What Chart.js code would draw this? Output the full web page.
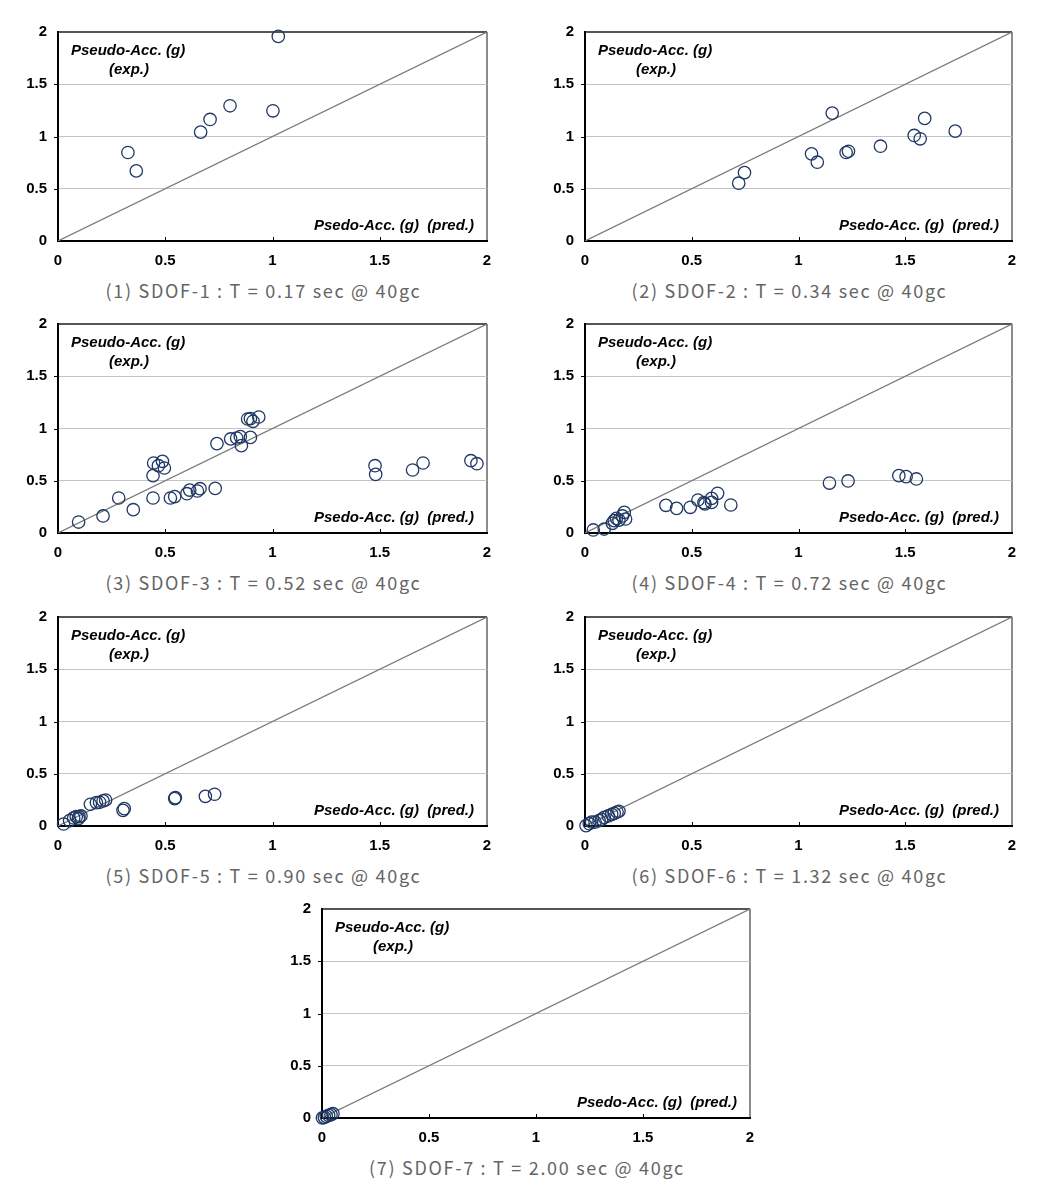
<!DOCTYPE html>
<html>
<head>
<meta charset="utf-8">
<script src="https://cdn.jsdelivr.net/npm/chart.js@4/dist/chart.umd.min.js"></script>
<style>
  html, body { margin: 0; padding: 0; background: #fff; }
  #wrap { position: relative; width: 1057px; height: 1192px; overflow: hidden; background: #fff; }
  canvas { position: absolute; }
  .lab { position: absolute; font-family: "Liberation Sans", Arial, sans-serif; font-weight: bold; font-style: italic; font-size: 15px; color: #000; white-space: pre; line-height: 16px; }
  .cap { position: absolute; font-family: "Noto Sans CJK KR", "Noto Sans", sans-serif; font-size: 18px; color: #656565; white-space: pre; letter-spacing: 1.7px; line-height: 22px; text-align: center; width: 440px; }
</style>
</head>
<body>
<div id="wrap"></div>
<script>
// ---------------- DATA ----------------
const xTickLabels = ['0', '0.5', '1', '1.5', '2'];
const yTickLabels = ['0', '0.5', '1', '1.5', '2'];
const diagX = [0, 2];
const diagY = [0, 2];

const captions = [
  '(1) SDOF-1 : T = 0.17 sec @ 40gc',
  '(2) SDOF-2 : T = 0.34 sec @ 40gc',
  '(3) SDOF-3 : T = 0.52 sec @ 40gc',
  '(4) SDOF-4 : T = 0.72 sec @ 40gc',
  '(5) SDOF-5 : T = 0.90 sec @ 40gc',
  '(6) SDOF-6 : T = 1.32 sec @ 40gc',
  '(7) SDOF-7 : T = 2.00 sec @ 40gc'
];
const yLabelLine1 = 'Pseudo-Acc. (g)';
const yLabelLine2 = '(exp.)';
const xLabel = 'Psedo-Acc. (g)  (pred.)';

// predicted (x) and experimental (y) pseudo-accelerations
const sdof1Pred = [0.326, 0.365, 0.665, 0.709, 0.802, 1.002, 1.027];
const sdof1Exp  = [0.847, 0.671, 1.042, 1.163, 1.294, 1.246, 1.958];

const sdof2Pred = [0.720, 0.747, 1.061, 1.088, 1.158, 1.223, 1.234, 1.384, 1.542, 1.570, 1.591, 1.734];
const sdof2Exp  = [0.553, 0.655, 0.834, 0.754, 1.224, 0.847, 0.859, 0.907, 1.010, 0.978, 1.173, 1.051];

const sdof3Pred = [0.096, 0.210, 0.283, 0.351, 0.443, 0.443, 0.446, 0.468, 0.487, 0.496, 0.524, 0.544,
                   0.601, 0.614, 0.650, 0.662, 0.733, 0.741, 0.805, 0.833, 0.850, 0.855, 0.897, 0.884,
                   0.897, 0.909, 0.936, 1.478, 1.481, 1.653, 1.702, 1.925, 1.953];
const sdof3Exp  = [0.105, 0.163, 0.335, 0.223, 0.335, 0.549, 0.670, 0.644, 0.686, 0.622, 0.335, 0.348,
                   0.376, 0.411, 0.402, 0.424, 0.427, 0.855, 0.900, 0.909, 0.922, 0.836, 0.915, 1.091,
                   1.094, 1.069, 1.110, 0.644, 0.561, 0.603, 0.670, 0.692, 0.663];

const sdof4Pred = [0.039, 0.090, 0.128, 0.137, 0.147, 0.159, 0.175, 0.184, 0.190, 0.379, 0.429, 0.493,
                   0.529, 0.557, 0.562, 0.593, 0.593, 0.621, 0.683, 1.145, 1.232, 1.470, 1.504, 1.552];
const sdof4Exp  = [0.029, 0.038, 0.093, 0.118, 0.140, 0.124, 0.163, 0.198, 0.134, 0.265, 0.236, 0.246,
                   0.316, 0.290, 0.278, 0.293, 0.332, 0.380, 0.268, 0.478, 0.498, 0.549, 0.539, 0.517];

const sdof5Pred = [0.026, 0.054, 0.073, 0.085, 0.098, 0.107, 0.095, 0.151, 0.179, 0.194, 0.210, 0.222,
                   0.303, 0.309, 0.544, 0.547, 0.687, 0.730];
const sdof5Exp  = [0.019, 0.051, 0.077, 0.089, 0.089, 0.096, 0.070, 0.208, 0.224, 0.227, 0.240, 0.249,
                   0.150, 0.166, 0.262, 0.272, 0.284, 0.304];

const sdof6Pred = [0.005, 0.020, 0.031, 0.047, 0.066, 0.078, 0.090, 0.109, 0.125, 0.137, 0.150, 0.159];
const sdof6Exp  = [0.003, 0.022, 0.038, 0.038, 0.051, 0.064, 0.083, 0.096, 0.112, 0.121, 0.134, 0.141];

const sdof7Pred = [0.002, 0.011, 0.020, 0.031, 0.042, 0.051];
const sdof7Exp  = [0.002, 0.006, 0.016, 0.025, 0.032, 0.041];

const predSeries = [sdof1Pred, sdof2Pred, sdof3Pred, sdof4Pred, sdof5Pred, sdof6Pred, sdof7Pred];
const expSeries  = [sdof1Exp, sdof2Exp, sdof3Exp, sdof4Exp, sdof5Exp, sdof6Exp, sdof7Exp];

// ---------------- LAYOUT (plot-area boxes: left, top, right, bottom) ----------------
const boxes = [
  [58, 32, 487, 241],
  [585, 32, 1012, 241],
  [58, 324, 487, 533],
  [585, 324, 1012, 533],
  [58, 617, 487, 826],
  [585, 617, 1012, 826],
  [322, 909, 750, 1118]
];

const AXW = 56, PADT = 32, PADR = 40, AXH = 34;
const wrap = document.getElementById('wrap');

const innerTicks = {
  id: 'innerTicks',
  beforeDatasetsDraw(chart) {
    const { ctx, chartArea: a, scales } = chart;
    ctx.save();
    ctx.strokeStyle = '#000';
    ctx.lineWidth = 1;
    [0.5, 1, 1.5].forEach(v => {
      const px = Math.round(scales.x.getPixelForValue(v)) + 0.5;
      ctx.beginPath(); ctx.moveTo(px, a.bottom); ctx.lineTo(px, a.bottom - 4); ctx.stroke();
      const py = Math.round(scales.y.getPixelForValue(v)) + 0.5;
      ctx.beginPath(); ctx.moveTo(a.left, py); ctx.lineTo(a.left - 4, py); ctx.stroke();
    });
    ctx.restore();
  }
};

const tickFont = { family: '"Liberation Sans", Arial, sans-serif', size: 15, weight: 'bold' };

boxes.forEach((b, i) => {
  const [L, T, R, B] = b;
  const w = (R - L) + AXW + PADR;
  const h = (B - T) + PADT + AXH;
  const cv = document.createElement('canvas');
  cv.width = w; cv.height = h;
  cv.style.left = (L - AXW) + 'px';
  cv.style.top = (T - PADT) + 'px';
  cv.style.width = w + 'px'; cv.style.height = h + 'px';
  wrap.appendChild(cv);

  const pts = predSeries[i].map((x, k) => ({ x: x, y: expSeries[i][k] }));
  const diag = diagX.map((x, k) => ({ x: x, y: diagY[k] }));

  new Chart(cv.getContext('2d'), {
    type: 'scatter',
    data: {
      datasets: [
        { type: 'line', data: diag, borderColor: '#7a7a7a', borderWidth: 1.2, pointRadius: 0, fill: false, order: 2 },
        { data: pts, pointRadius: 6.2, pointHoverRadius: 6.2, borderColor: '#1f3864', borderWidth: 1.3,
          backgroundColor: 'rgba(0,0,0,0)', clip: false, order: 1 }
      ]
    },
    options: {
      responsive: false, animation: false, events: [],
      layout: { padding: { left: 0, top: PADT, right: PADR, bottom: 0 } },
      plugins: { legend: { display: false }, tooltip: { enabled: false } },
      scales: {
        x: {
          type: 'linear', min: 0, max: 2,
          ticks: { stepSize: 0.5, font: tickFont, color: '#000', padding: 11, maxRotation: 0,
                   callback: (v, idx) => xTickLabels[idx] },
          grid: { drawTicks: false,
                  color: c => (c.tick && c.tick.value === 2) ? '#8c8c8c' : 'rgba(0,0,0,0)',
                  lineWidth: c => (c.tick && c.tick.value === 2) ? 2 : 1 },
          border: { color: '#000', width: 2 },
          afterFit: s => { s.height = AXH; }
        },
        y: {
          type: 'linear', min: 0, max: 2,
          ticks: { stepSize: 0.5, font: tickFont, color: '#000', padding: 11,
                   callback: (v, idx) => yTickLabels[idx] },
          grid: { drawTicks: false,
                  color: c => {
                    if (!c.tick) return 'rgba(0,0,0,0)';
                    if (c.tick.value === 2) return '#555';
                    if (c.tick.value === 0) return 'rgba(0,0,0,0)';
                    return '#c4c4c4';
                  },
                  lineWidth: c => (c.tick && c.tick.value === 2) ? 2 : 1 },
          border: { color: '#000', width: 2 },
          afterFit: s => { s.width = AXW; }
        }
      }
    },
    plugins: [innerTicks]
  });

  // annotation texts
  const l1 = document.createElement('div');
  l1.className = 'lab'; l1.textContent = yLabelLine1;
  l1.style.left = (L + 13) + 'px'; l1.style.top = (T + 10) + 'px';
  wrap.appendChild(l1);
  const l2 = document.createElement('div');
  l2.className = 'lab'; l2.textContent = yLabelLine2;
  l2.style.left = (L + 51) + 'px'; l2.style.top = (T + 29) + 'px';
  wrap.appendChild(l2);
  const l3 = document.createElement('div');
  l3.className = 'lab'; l3.textContent = xLabel;
  l3.style.right = (1057 - (R - 13)) + 'px'; l3.style.top = (B - 24) + 'px';
  wrap.appendChild(l3);

  const cap = document.createElement('div');
  cap.className = 'cap'; cap.textContent = captions[i];
  cap.style.left = ((L + R) / 2 - 9 - 220) + 'px';
  cap.style.top = (B + 38) + 'px';
  wrap.appendChild(cap);
});
</script>
</body>
</html>
